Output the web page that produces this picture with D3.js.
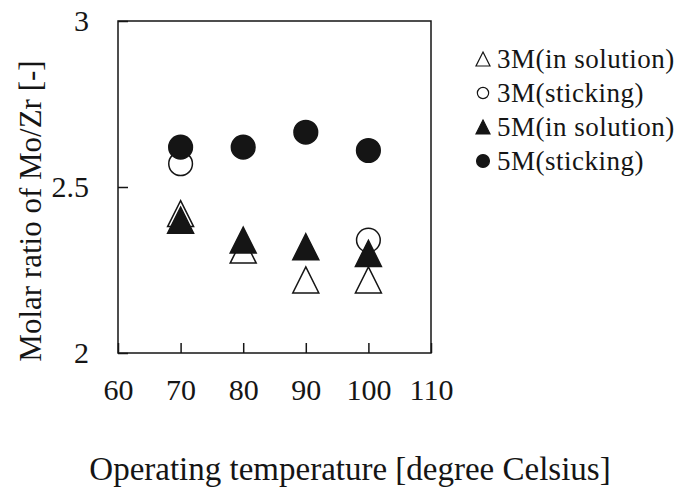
<!DOCTYPE html>
<html>
<head>
<meta charset="utf-8">
<script src="https://cdn.jsdelivr.net/npm/d3@7"></script>
<style>
  html, body { margin: 0; padding: 0; background: #fff; }
  svg { display: block; font-family: "Liberation Serif", "Times New Roman", serif; }
</style>
</head>
<body>
<svg id="chart" width="692" height="496"></svg>
<script>
// Operating temperature (degree Celsius)
const temperatures = [70, 80, 90, 100];

// Molar ratio Mo/Zr for each condition (null = no point plotted)
const solution3M = [2.42, 2.31, 2.22, 2.22];
const sticking3M = [2.57, null, null, 2.34];
const solution5M = [2.40, 2.34, 2.32, 2.30];
const sticking5M = [2.62, 2.62, 2.665, 2.61];

const seriesNames = ["3M(in solution)", "3M(sticking)", "5M(in solution)", "5M(sticking)"];
const xTicks = [60, 70, 80, 90, 100, 110];
const yTicks = [2, 2.5, 3];

const series = [
  { name: seriesNames[0], values: solution3M, shape: "triangle", filled: false },
  { name: seriesNames[1], values: sticking3M, shape: "circle", filled: false },
  { name: seriesNames[2], values: solution5M, shape: "triangle", filled: true },
  { name: seriesNames[3], values: sticking5M, shape: "circle", filled: true }
];

const svg = d3.select("#chart");
const plot = { left: 118, right: 431, top: 21, bottom: 353 };
const ink = "#151515";

const x = d3.scaleLinear().domain([60, 110]).range([plot.left, plot.right]);
const y = d3.scaleLinear().domain([2, 3]).range([plot.bottom, plot.top]);

// Frame
svg.append("rect")
  .attr("x", plot.left).attr("y", plot.top)
  .attr("width", plot.right - plot.left).attr("height", plot.bottom - plot.top)
  .attr("fill", "none").attr("stroke", ink).attr("stroke-width", 1.5);

// X axis: inward ticks, labels below
const xAxis = d3.axisBottom(x).tickValues(xTicks).tickSize(-10).tickPadding(26)
  .tickFormat(d3.format("d"));
const gx = svg.append("g").attr("transform", `translate(0,${plot.bottom})`).call(xAxis);
gx.select(".domain").remove();
gx.selectAll(".tick line").attr("stroke", ink).attr("stroke-width", 1.5);
gx.selectAll(".tick text").attr("font-size", 30).attr("fill", ink)
  .attr("font-family", "Liberation Serif, serif");

// Y axis: inward ticks, labels left
const yAxis = d3.axisLeft(y).tickValues(yTicks).tickSize(-10).tickPadding(29)
  .tickFormat(d => d === 2.5 ? "2.5" : d3.format("d")(d));
const gy = svg.append("g").attr("transform", `translate(${plot.left},0)`).call(yAxis);
gy.select(".domain").remove();
gy.selectAll(".tick line").attr("stroke", ink).attr("stroke-width", 1.5);
gy.selectAll(".tick text").attr("font-size", 30).attr("fill", ink)
  .attr("font-family", "Liberation Serif, serif");

// Axis titles
svg.append("text")
  .attr("x", 350).attr("y", 480)
  .attr("text-anchor", "middle").attr("font-size", 33).attr("fill", ink)
  .text("Operating temperature [degree Celsius]");

svg.append("text")
  .attr("transform", "translate(41,211) rotate(-90)")
  .attr("text-anchor", "middle").attr("font-size", 31).attr("fill", ink)
  .text("Molar ratio of Mo/Zr [-]");

// Upright triangle with equal width and height, centred on its bounding box
const tallTriangle = {
  draw(context, size) {
    const s = Math.sqrt(size);
    context.moveTo(0, -s / 2);
    context.lineTo(s / 2, s / 2);
    context.lineTo(-s / 2, s / 2);
    context.closePath();
  }
};

const symbolFor = (shape, area) =>
  d3.symbol().type(shape === "triangle" ? tallTriangle : d3.symbolCircle).size(area)();

// Markers, drawn in series order so later series sit on top
series.forEach(s => {
  const pts = temperatures.map((t, i) => ({ t, v: s.values[i] })).filter(p => p.v != null);
  svg.append("g").selectAll("path").data(pts).join("path")
    .attr("d", symbolFor(s.shape, s.shape === "triangle" ? 26 * 26 : 440))
    .attr("transform", p => `translate(${x(p.t)},${y(p.v)})`)
    .attr("fill", s.filled ? ink : "#fff")
    .attr("stroke", ink).attr("stroke-width", 1.5);
});

// Legend
const legend = svg.append("g").attr("transform", "translate(483,59)");
series.forEach((s, i) => {
  const row = legend.append("g").attr("transform", `translate(0,${i * 34})`);
  row.append("path")
    .attr("d", s.shape === "triangle" ? symbolFor("triangle", 14 * 14)
                                      : symbolFor("circle", s.filled ? 130 : 100))
    .attr("fill", s.filled ? ink : "#fff")
    .attr("stroke", ink).attr("stroke-width", 1.2);
  row.append("text")
    .attr("x", 14).attr("y", 0).attr("dy", "0.35em")
    .attr("font-size", 27).attr("letter-spacing", 0.5).attr("fill", ink)
    .text(s.name);
});
</script>
</body>
</html>
